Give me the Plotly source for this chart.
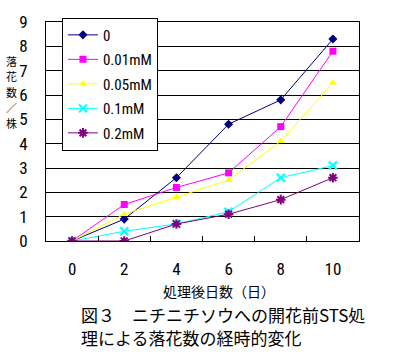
import plotly.graph_objects as go

days = [0, 2, 4, 6, 8, 10]
tick_labels = ["0", "2", "4", "6", "8", "10"]
series_names = ["0", "0.01mM", "0.05mM", "0.1mM", "0.2mM"]
s0 = [0, 0.9, 2.6, 4.8, 5.8, 8.3]
s001 = [0, 1.5, 2.2, 2.8, 4.7, 7.8]
s005 = [0, 1.1, 1.8, 2.5, 4.1, 6.5]
s01 = [0, 0.4, 0.7, 1.2, 2.6, 3.1]
s02 = [0, 0, 0.7, 1.1, 1.7, 2.6]
ytitle_chars = ["落", "花", "数", "／", "株"]

colors = ["#000080", "#FF00FF", "#FFFF00", "#00FFFF", "#800080"]
symbols = ["diamond", "square", "triangle-up", "x-thin-open", "asterisk-open"]
values = [s0, s001, s005, s01, s02]

NUM = "Roboto Condensed, DejaVu Sans Condensed, sans-serif"
JP = "Noto Sans CJK JP"

fig = go.Figure()
for i, (name, vals) in enumerate(zip(series_names, values)):
    fig.add_trace(go.Scatter(
        x=days, y=vals, name=name, mode="lines+markers",
        legendgroup=name,
        line=dict(color=colors[i], width=1),
        marker=dict(symbol=symbols[i], color=colors[i], size=7 if i < 3 else 8,
                    line=dict(color=colors[i], width=2 if i >= 3 else 0)),
    ))

# helper invisible trace on overlay axis for between-category tick marks
fig.add_trace(go.Scatter(x=[1], y=[0], xaxis="x2", showlegend=False,
                         mode="markers", marker=dict(opacity=0), hoverinfo="skip"))

annotations = [
    dict(text="処理後日数（日）", xref="paper", yref="paper",
         x=0.553, y=-0.229, xanchor="center", yanchor="middle",
         showarrow=False, font=dict(family=JP, size=14, color="black")),
    dict(text="図３　ニチニチソウへの開花前STS処", xref="paper", yref="paper",
         x=0.105, y=-0.337, xanchor="left", yanchor="middle",
         showarrow=False, font=dict(family=JP, size=17, color="black")),
    dict(text="理による落花数の経時的変化", xref="paper", yref="paper",
         x=0.105, y=-0.442, xanchor="left", yanchor="middle",
         showarrow=False, font=dict(family=JP, size=17, color="black")),
]
# vertical, stacked y-axis title
for k, ch in enumerate(ytitle_chars):
    annotations.append(dict(text=ch, xref="paper", yref="paper",
                            x=-0.109, y=0.822 - k * 0.0705,
                            xanchor="center", yanchor="middle", showarrow=False,
                            font=dict(family=JP, size=11, color="black")))

fig.update_layout(
    width=415, height=356,
    margin=dict(l=46, r=56, t=14, b=115),
    paper_bgcolor="white", plot_bgcolor="white",
    showlegend=True,
    legend=dict(x=0.051, y=1.02, xanchor="left", yanchor="top",
                bordercolor="black", borderwidth=1, bgcolor="white",
                font=dict(family=NUM, size=15, color="black"),
                tracegroupgap=2, itemwidth=30),
    xaxis=dict(range=[-1, 11], tickvals=days, ticktext=tick_labels,
               ticks="", showgrid=False, zeroline=False,
               showline=True, linecolor="black", linewidth=1, mirror=True,
               tickfont=dict(family=NUM, size=17, color="black"),
               ticklabelstandoff=13),
    xaxis2=dict(range=[-1, 11], overlaying="x", side="bottom", matches="x",
                tickvals=[1, 3, 5, 7, 9], ticks="inside", ticklen=5,
                tickcolor="black", showticklabels=False, showgrid=False,
                zeroline=False, showline=False),
    yaxis=dict(range=[0, 9], dtick=1, showgrid=True, gridcolor="black",
               gridwidth=1, zeroline=False, ticks="",
               showline=True, linecolor="black", linewidth=1, mirror=True,
               tickfont=dict(family=NUM, size=17, color="black"),
               ticklabelstandoff=14),
    annotations=annotations,
)

# remove the default page margin so the figure sits at the window's top-left
fig.write_html("out.html", config={"displayModeBar": False},
               post_script="document.body.style.margin='0';")
